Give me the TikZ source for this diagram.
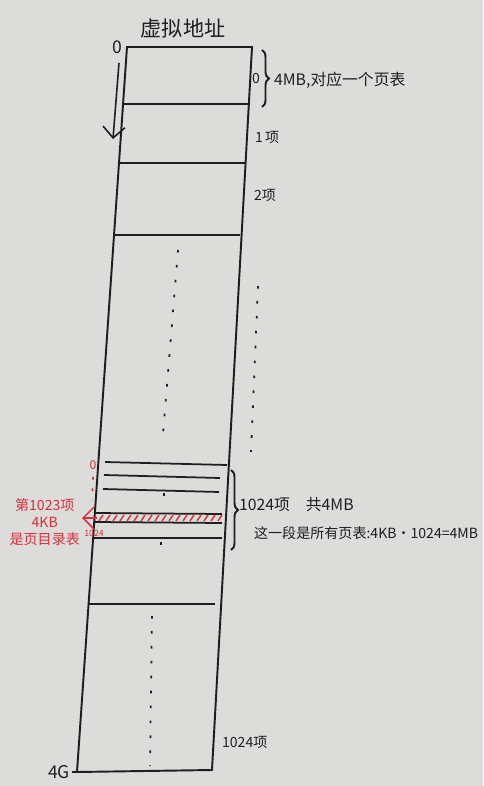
\documentclass[tikz,border=0pt]{standalone}
\usepackage{fontspec}
\newfontfamily\cjk{Noto Sans CJK SC}
\usetikzlibrary{arrows.meta,positioning,decorations.pathreplacing}
\definecolor{PaperGray}{HTML}{DCDCDA}
\definecolor{InkBlack}{HTML}{1E1E1E}
\definecolor{InkRed}{HTML}{D8303C}

\begin{document}
\begin{tikzpicture}[x=0.02cm,y=-0.02cm,
    every node/.style={font=\cjk\footnotesize,text=InkBlack,inner sep=1pt},
    ink/.style={draw=InkBlack,line width=1.1pt},
    slot/.style={draw=InkBlack,line width=1pt},
    redtext/.style={text=InkRed,align=center},
    dots/.style={draw=InkBlack,line width=1pt,dash pattern=on 1.5pt off 7pt},
    reddots/.style={draw=InkRed,line width=1pt,dash pattern=on 1.5pt off 5pt},
    bracket/.style={draw=InkBlack,line width=1.1pt,decorate,decoration={brace,amplitude=4pt}},
    arrow/.style={-{Straight Barb[length=2.2mm]},draw=InkBlack,line width=0.9pt}]
  % paper
  \fill[PaperGray] (0,0) rectangle (483,786);
  \useasboundingbox (0,0) rectangle (483,786);
  % the address space column
  \coordinate (tl) at (127,47);
  \coordinate (tr) at (252,47);
  \coordinate (br) at (212,770);
  \coordinate (bl) at (77,772);
  \draw[ink] (tl) -- (tr) -- (br) -- (bl) -- cycle;
  % slots
  \draw[slot] (123,104) -- (249,104);
  \draw[slot] (119,163) -- (246,163);
  \draw[slot] (114,235) -- (240,235);
  \draw[slot] (105,462) -- (227,465);
  \draw[slot] (104,475) -- (220,478);
  \draw[slot] (103,489) -- (219,492);
  \draw[slot] (95,513) -- (222,514);
  \draw[slot] (95,522) -- (222,523);
  \draw[slot] (93,538) -- (222,538);
  \draw[slot] (89,604) -- (215,604);
  % hatched page directory slot
  \foreach \x in {99,106,...,218}
    \draw[InkRed,line width=0.8pt] (\x,521) -- (\x+4,515);
  % dots
  \draw[dots] (178,250) -- (163,434);
  \draw[dots] (164,493) -- (164,506);
  \draw[dots] (161,542) -- (161,555);
  \draw[dots] (152,616) -- (150,766);
  \draw[dots] (258,286) -- (251,452);
  % title and origin
  \node[font=\cjk\large] (title) at (183,28) {虚拟地址};
  \node[font=\cjk\normalsize] (zero) at (117,47) {0};
  \coordinate (down0) at (119,63);
  \coordinate (down1) at (113,139);
  \draw[arrow] (down0) -- (down1);
  \node[font=\cjk\normalsize,anchor=east] (fourg) at (72,772) {4G};
  \draw[ink] (fourg.east) -- (bl);
  % first slots
  \node (idx0) at (256,78) {0};
  \draw[bracket] (262,50) -- (262,107);
  \node[anchor=west,font=\cjk\small] (first) at (272,80) {4MB,对应一个页表};
  \node[anchor=west] (item1) at (253,137) {1\,项};
  \node[anchor=west] (item2) at (252,195) {2项};
  \node[anchor=west] (itemlast) at (220,742) {1024项};
  % page tables segment
  \draw[bracket] (231,470) -- (231,550);
  \node[anchor=west,font=\cjk\small] (segcount) at (237,505) {1024项\quad 共4MB};
  \node[anchor=west] (segnote) at (252,533) {这一段是所有页表:4KB·1024=4MB};
  % page directory (red)
  \node[text=InkRed,font=\cjk\scriptsize] (redzero) at (93,465) {0};
  \draw[reddots] (93,477) -- (92,500);
  \node[text=InkRed,font=\cjk\tiny] (redlast) at (94,533) {1024};
  \node[redtext,anchor=east] (pagedir) at (82,522) {第1023项\\4KB\\是页目录表};
  \coordinate (dirslot) at (97,518);
  \draw[arrow,draw=InkRed] (dirslot) -- (pagedir.east |- dirslot);
\end{tikzpicture}
\end{document}
